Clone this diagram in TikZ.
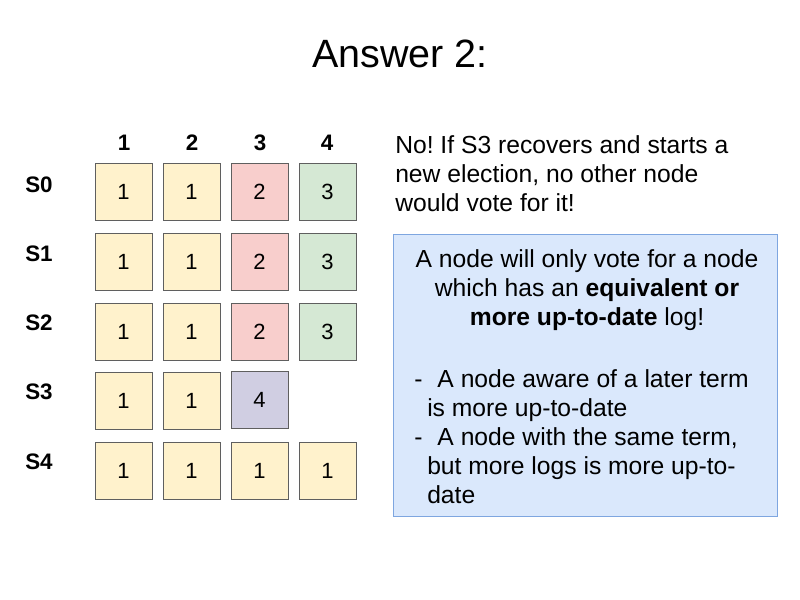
\documentclass[tikz,border=0pt]{standalone}
\usepackage{fontspec}
\setmainfont{Liberation Sans}
\frenchspacing
\definecolor{termone}{HTML}{FFF2CC}
\definecolor{termtwo}{HTML}{F8CECC}
\definecolor{termthree}{HTML}{D5E8D4}
\definecolor{termfour}{HTML}{D0CEE2}
\definecolor{notefill}{HTML}{DAE8FC}
\definecolor{noteline}{HTML}{7EA6E0}
\definecolor{entryline}{HTML}{5F5F5F}
\tikzset{
  entry/.style={draw=entryline, line width=0.75pt, minimum size=42.75pt, inner sep=0pt, font=\fontsize{16.5}{19}\selectfont},
  head/.style={anchor=base, inner sep=0pt, font=\fontsize{16.8}{19}\selectfont\bfseries},
  prose/.style={inner sep=0pt, font=\fontsize{18.5}{21.9}\selectfont},
}

\begin{document}
\begin{tikzpicture}[x=0.75pt,y=-0.75pt]
    \useasboundingbox (0,0) rectangle (800,600);
    \node[anchor=base, inner sep=0pt, font=\fontsize{29.6}{34}\selectfont] (title) at (400,67) {Answer 2:};

    \node[head] (c1) at (124,150) {1};
    \node[head] (c2) at (192,150) {2};
    \node[head] (c3) at (260,150) {3};
    \node[head] (c4) at (327,150) {4};
    \node[head] (s0) at (39,192) {S0};
    \node[head] (s1) at (39,261) {S1};
    \node[head] (s2) at (39,330) {S2};
    \node[head] (s3) at (39,399) {S3};
    \node[head] (s4) at (39,469) {S4};

    \node[entry, fill=termone] (s0e1) at (123.5,192) {1};
    \node[entry, fill=termone] (s0e2) at (191.5,192) {1};
    \node[entry, fill=termtwo] (s0e3) at (259.5,192) {2};
    \node[entry, fill=termthree] (s0e4) at (327.5,192) {3};
    \node[entry, fill=termone] (s1e1) at (123.5,262) {1};
    \node[entry, fill=termone] (s1e2) at (191.5,262) {1};
    \node[entry, fill=termtwo] (s1e3) at (259.5,262) {2};
    \node[entry, fill=termthree] (s1e4) at (327.5,262) {3};
    \node[entry, fill=termone] (s2e1) at (123.5,332) {1};
    \node[entry, fill=termone] (s2e2) at (191.5,332) {1};
    \node[entry, fill=termtwo] (s2e3) at (259.5,332) {2};
    \node[entry, fill=termthree] (s2e4) at (327.5,332) {3};
    \node[entry, fill=termone] (s3e1) at (123.5,401) {1};
    \node[entry, fill=termone] (s3e2) at (191.5,401) {1};
    \node[entry, fill=termfour] (s3e3) at (259.5,400) {4};
    \node[entry, fill=termone] (s4e1) at (123.5,471) {1};
    \node[entry, fill=termone] (s4e2) at (191.5,471) {1};
    \node[entry, fill=termone] (s4e3) at (259.5,471) {1};
    \node[entry, fill=termone] (s4e4) at (327.5,471) {1};

    \node[prose, anchor=north west, align=left] (answer) at (395,135)
        {No! If S3 recovers and starts a\\new election, no other node\\would vote for it!};

    \node[draw=noteline, fill=notefill, line width=0.75pt, minimum width=288pt, minimum height=211.5pt] (note) at (585,375) {};
    \node[prose, anchor=north, align=center] (rule) at (587,249)
        {A node will only vote for a node\\which has an \textbf{equivalent or}\\\textbf{more up-to-date} log!};
    \node[prose, anchor=north west, align=left] (cases) at (414,369)
        {-\hspace{11.25pt}A node aware of a later term\\\hspace*{9.75pt}is more up-to-date\\-\hspace{11.25pt}A node with the same term,\\\hspace*{9.75pt}but more logs is more up-to-\\\hspace*{9.75pt}date};
\end{tikzpicture}
\end{document}
